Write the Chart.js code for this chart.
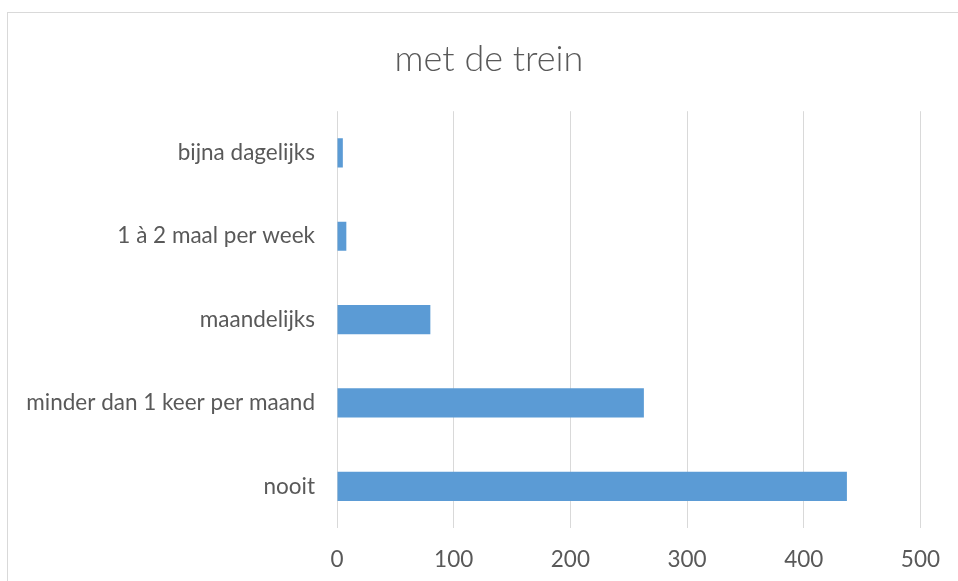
<!DOCTYPE html>
<html>
<head>
<meta charset="utf-8">
<script src="https://cdn.jsdelivr.net/npm/chart.js@4.4.1/dist/chart.umd.min.js"></script>
<style>
    html, body { margin: 0; padding: 0; background: #fff; overflow: hidden; }
    body { width: 958px; height: 581px; position: relative; }
    /* rand van het grafiekvak, loopt rechts en onder buiten beeld */
    #rand { position: absolute; left: 7px; top: 12px; width: 1000px; height: 620px; border: 1px solid #d9d9d9; box-sizing: border-box; }
    #wrap { position: absolute; left: 0; top: 0; width: 958px; height: 581px; }
</style>
</head>
<body>
<div id="rand"></div>
<div id="wrap"><canvas id="myChart"></canvas></div>
<script>
// data van de grafiek
const categorieen = ['bijna dagelijks', '1 à 2 maal per week', 'maandelijks', 'minder dan 1 keer per maand', 'nooit'];
const aantallen = [5, 8, 80, 263, 437];
const asTicks = [0, 100, 200, 300, 400, 500];

const grijs = '#595959';

// titel centreren over de volle breedte (niet tot de rechter padding)
const titelBreed = {
    id: 'titelBreed',
    afterLayout(chart) {
        if (chart.titleBlock) {
            chart.titleBlock.right = chart.width;
        }
    }
};

let myChart;
function initChart() {
    const ctx = document.getElementById('myChart').getContext('2d');
    myChart = new Chart(ctx, {
        type: 'bar',
        data: {
            labels: categorieen,
            datasets: [{
                label: 'met de trein',
                data: aantallen,
                backgroundColor: '#5b9bd5',
                borderWidth: 0,
                categoryPercentage: 1,
                barPercentage: 0.35
            }]
        },
        options: {
            indexAxis: 'y',
            responsive: true,
            maintainAspectRatio: false,
            animation: false,
            layout: { padding: { left: 20, right: 37, top: 0, bottom: 0 } },
            plugins: {
                legend: { display: false },
                tooltip: { enabled: false },
                title: {
                    display: true,
                    text: 'met de trein',
                    color: grijs,
                    font: { family: 'Lato', size: 36, weight: 300 },
                    padding: { top: 38, bottom: 30 }
                }
            },
            scales: {
                x: {
                    min: asTicks[0],
                    max: asTicks[asTicks.length - 1],
                    afterBuildTicks: (scale) => { scale.ticks = asTicks.map(v => ({ value: v })); },
                    grid: { color: '#d9d9d9', lineWidth: 1, drawTicks: false },
                    border: { display: false },
                    ticks: { color: grijs, font: { family: 'Lato', size: 22.5 }, padding: 18 },
                    afterFit: (scale) => { scale.height = 53; }
                },
                y: {
                    grid: { display: false, drawTicks: false },
                    border: { display: false },
                    ticks: { color: grijs, font: { family: 'Lato', size: 22.5 }, padding: 22 },
                    afterFit: (scale) => { scale.width = 317; }
                }
            }
        },
        plugins: [titelBreed]
    });
}

initChart();
</script>
</body>
</html>
